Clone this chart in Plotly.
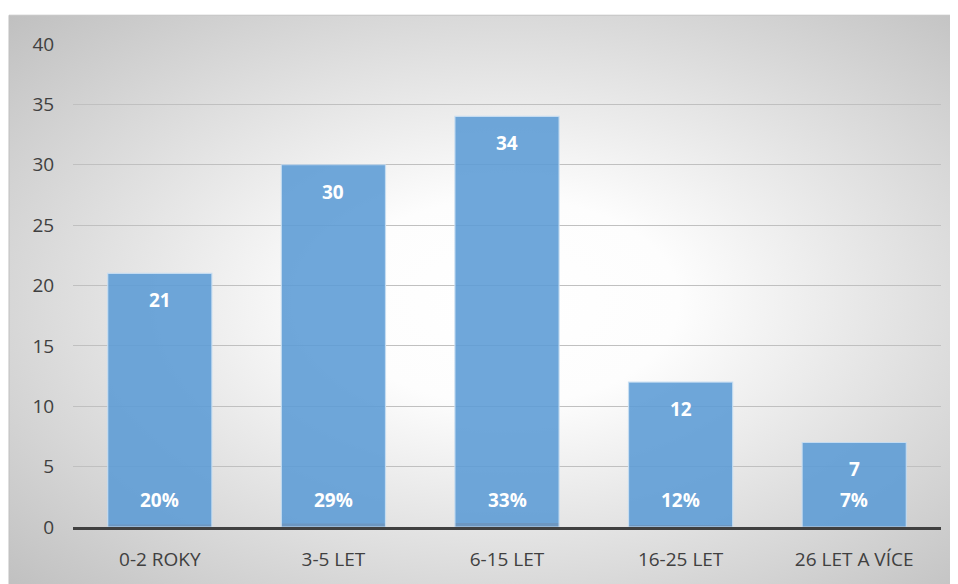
import base64
import plotly.graph_objects as go

categories = ["0-2 ROKY", "3-5 LET", "6-15 LET", "16-25 LET", "26 LET A VÍCE"]
counts = [21, 30, 34, 12, 7]
shares = [0.20, 0.29, 0.33, 0.12, 0.07]
share_labels = ["20%", "29%", "33%", "12%", "7%"]
y_ticks = [0, 5, 10, 15, 20, 25, 30, 35, 40]

# page body has an 8px margin; figure size/margins compensate
W, H = 950, 576
ML, MR, MT, MB = 65, 17, 36, 53
pw, ph = W - ML - MR, H - MT - MB

# background frame (px in figure) -> paper coords
fx0, fy0 = 1, 7
px0 = (fx0 - ML) / pw
px1 = (W + 8 - ML) / pw
py1 = (H - MB - fy0) / ph
py0 = (H - MB - H - 8) / ph

svg = ('<svg xmlns="http://www.w3.org/2000/svg" width="949" height="569" preserveAspectRatio="none">'
       '<defs><radialGradient id="g" cx="0.52" cy="0.5" r="0.72">'
       '<stop offset="0" stop-color="#ffffff"/><stop offset="0.25" stop-color="#fdfdfd"/>'
       '<stop offset="1" stop-color="#c0c0c0"/></radialGradient></defs>'
       '<rect x="0" y="0" width="949" height="569" fill="url(#g)"/></svg>')
src = "data:image/svg+xml;base64," + base64.b64encode(svg.encode()).decode()

fig = go.Figure()
fig.add_trace(go.Bar(x=categories, y=shares, marker=dict(color="#ED7D31", line=dict(width=0)),
                     width=0.6, hoverinfo="skip", showlegend=False))
fig.add_trace(go.Bar(x=categories, y=counts,
                     marker=dict(color="rgba(91,155,213,0.88)",
                                 line=dict(color="rgba(200,222,242,0.9)", width=1.2)),
                     width=0.6, showlegend=False))

label_font = dict(family="Open Sans", size=19, color="white", weight="bold")
for c, v in zip(categories, counts):
    fig.add_annotation(x=c, y=v, text=str(v), showarrow=False, yshift=-27,
                       yanchor="middle", font=label_font)
for c, s in zip(categories, share_labels):
    fig.add_annotation(x=c, y=0, text=s, showarrow=False, yshift=27,
                       yanchor="middle", font=label_font)

fig.add_layout_image(dict(source=src, xref="paper", yref="paper", x=px0, y=py1,
                          sizex=px1 - px0, sizey=py1 - py0, sizing="stretch",
                          xanchor="left", yanchor="top", layer="below"))
fig.add_shape(type="rect", xref="paper", yref="paper", x0=px0, x1=px1 + 0.01,
              y0=py0 - 0.01, y1=py1, line=dict(color="#bfbfbf", width=1),
              fillcolor="rgba(0,0,0,0)", layer="below")

tick_font = dict(family="Open Sans", size=19, color="#404040")
fig.update_layout(
    width=W, height=H,
    margin=dict(l=ML, r=MR, t=MT, b=MB),
    paper_bgcolor="white", plot_bgcolor="rgba(0,0,0,0)",
    barmode="overlay",
    xaxis=dict(showgrid=False, showline=True, linecolor="#404040", linewidth=3,
               ticks="outside", ticklen=13, tickcolor="rgba(0,0,0,0)",
               tickfont=tick_font, range=[-0.5, 4.5], fixedrange=True),
    yaxis=dict(range=[0, 40], tickvals=y_ticks, showgrid=True, gridcolor="#c0c0c0",
               gridwidth=1, zeroline=False, showline=False,
               ticks="outside", ticklen=14, tickcolor="rgba(0,0,0,0)",
               tickfont=tick_font, fixedrange=True),
)

fig.write_html("out.html")
